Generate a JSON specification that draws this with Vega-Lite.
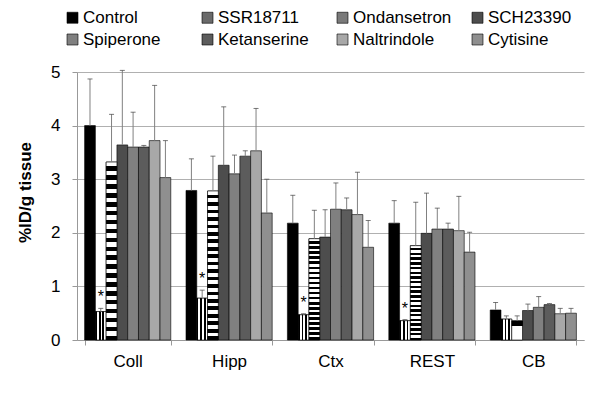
{
  "$schema": "https://vega.github.io/schema/vega-lite/v6.json",
  "width": 507,
  "height": 268,
  "autosize": {"type": "none"},
  "padding": {"left": 77, "top": 72, "right": 17, "bottom": 65},
  "config": {
    "font": "Liberation Sans",
    "view": {"stroke": null},
    "axis": {"labelColor": "#000", "titleColor": "#000", "domainColor": "#999", "tickColor": "#999", "gridColor": "#b0b0b0"}
  },
  "data": {
    "values": [
      {"region": "Coll", "treatment": "Control", "value": 4.00, "upper": 4.87, "sig": ""},
      {"region": "Coll", "treatment": "SSR18711", "value": 0.53, "upper": 0.59, "sig": "*"},
      {"region": "Coll", "treatment": "Ondansetron", "value": 3.32, "upper": 4.21, "sig": ""},
      {"region": "Coll", "treatment": "SCH23390", "value": 3.64, "upper": 5.03, "sig": ""},
      {"region": "Coll", "treatment": "Spiperone", "value": 3.60, "upper": 4.25, "sig": ""},
      {"region": "Coll", "treatment": "Ketanserine", "value": 3.60, "upper": 3.63, "sig": ""},
      {"region": "Coll", "treatment": "Naltrindole", "value": 3.72, "upper": 4.75, "sig": ""},
      {"region": "Coll", "treatment": "Cytisine", "value": 3.03, "upper": 3.72, "sig": ""},
      {"region": "Hipp", "treatment": "Control", "value": 2.79, "upper": 3.38, "sig": ""},
      {"region": "Hipp", "treatment": "SSR18711", "value": 0.78, "upper": 0.93, "sig": "*"},
      {"region": "Hipp", "treatment": "Ondansetron", "value": 2.78, "upper": 3.43, "sig": ""},
      {"region": "Hipp", "treatment": "SCH23390", "value": 3.26, "upper": 4.35, "sig": ""},
      {"region": "Hipp", "treatment": "Spiperone", "value": 3.10, "upper": 3.45, "sig": ""},
      {"region": "Hipp", "treatment": "Ketanserine", "value": 3.43, "upper": 3.53, "sig": ""},
      {"region": "Hipp", "treatment": "Naltrindole", "value": 3.53, "upper": 4.32, "sig": ""},
      {"region": "Hipp", "treatment": "Cytisine", "value": 2.37, "upper": 3.00, "sig": ""},
      {"region": "Ctx", "treatment": "Control", "value": 2.18, "upper": 2.70, "sig": ""},
      {"region": "Ctx", "treatment": "SSR18711", "value": 0.47, "upper": 0.49, "sig": "*"},
      {"region": "Ctx", "treatment": "Ondansetron", "value": 1.89, "upper": 2.42, "sig": ""},
      {"region": "Ctx", "treatment": "SCH23390", "value": 1.92, "upper": 2.43, "sig": ""},
      {"region": "Ctx", "treatment": "Spiperone", "value": 2.44, "upper": 2.93, "sig": ""},
      {"region": "Ctx", "treatment": "Ketanserine", "value": 2.43, "upper": 2.65, "sig": ""},
      {"region": "Ctx", "treatment": "Naltrindole", "value": 2.34, "upper": 3.13, "sig": ""},
      {"region": "Ctx", "treatment": "Cytisine", "value": 1.73, "upper": 2.23, "sig": ""},
      {"region": "REST", "treatment": "Control", "value": 2.18, "upper": 2.60, "sig": ""},
      {"region": "REST", "treatment": "SSR18711", "value": 0.36, "upper": 0.38, "sig": "*"},
      {"region": "REST", "treatment": "Ondansetron", "value": 1.76, "upper": 2.57, "sig": ""},
      {"region": "REST", "treatment": "SCH23390", "value": 1.99, "upper": 2.74, "sig": ""},
      {"region": "REST", "treatment": "Spiperone", "value": 2.07, "upper": 2.46, "sig": ""},
      {"region": "REST", "treatment": "Ketanserine", "value": 2.07, "upper": 2.18, "sig": ""},
      {"region": "REST", "treatment": "Naltrindole", "value": 2.04, "upper": 2.68, "sig": ""},
      {"region": "REST", "treatment": "Cytisine", "value": 1.64, "upper": 2.01, "sig": ""},
      {"region": "CB", "treatment": "Control", "value": 0.56, "upper": 0.70, "sig": ""},
      {"region": "CB", "treatment": "SSR18711", "value": 0.39, "upper": 0.45, "sig": ""},
      {"region": "CB", "treatment": "Ondansetron", "value": 0.36, "upper": 0.45, "sig": ""},
      {"region": "CB", "treatment": "SCH23390", "value": 0.55, "upper": 0.67, "sig": ""},
      {"region": "CB", "treatment": "Spiperone", "value": 0.61, "upper": 0.81, "sig": ""},
      {"region": "CB", "treatment": "Ketanserine", "value": 0.66, "upper": 0.68, "sig": ""},
      {"region": "CB", "treatment": "Naltrindole", "value": 0.49, "upper": 0.59, "sig": ""},
      {"region": "CB", "treatment": "Cytisine", "value": 0.50, "upper": 0.59, "sig": ""}
    ]
  },
  "encoding": {
    "x": {
      "field": "region", "type": "nominal", "sort": ["Coll", "Hipp", "Ctx", "REST", "CB"],
      "scale": {"paddingInner": 0.15, "paddingOuter": 0.075},
      "axis": {"title": null, "labelAngle": 0, "labelFontSize": 17, "tickBand": "extent", "tickSize": 5, "labelPadding": 8}
    },
    "xOffset": {
      "field": "treatment", "type": "nominal",
      "sort": ["Control", "SSR18711", "Ondansetron", "SCH23390", "Spiperone", "Ketanserine", "Naltrindole", "Cytisine"],
      "scale": {"paddingInner": 0, "paddingOuter": 0}
    },
    "y": {
      "field": "value", "type": "quantitative", "scale": {"domain": [0, 5]},
      "axis": {
        "values": [0, 1, 2, 3, 4, 5], "title": "%ID/g tissue", "titleFontSize": 17, "titleFontWeight": "bold",
        "titleX": -52, "titleY": 120, "titleAngle": -90, "titleAlign": "center", "titleBaseline": "middle",
        "labelFontSize": 17, "labelPadding": 12, "tickSize": 5, "grid": true
      }
    }
  },
  "layer": [
    {
      "mark": {"type": "bar", "stroke": "#000", "strokeWidth": 0.6},
      "encoding": {
        "fill": {
          "field": "treatment", "type": "nominal",
          "scale": {
            "domain": ["Control", "SSR18711", "Ondansetron", "SCH23390", "Spiperone", "Ketanserine", "Naltrindole", "Cytisine"],
            "range": ["#000000", "#6a6a6a", "#7a7a7a", "#4d4d4d", "#808080", "#5c5c5c", "#a8a8a8", "#8f8f8f"]
          },
          "legend": {
            "orient": "none", "direction": "horizontal", "legendX": -13, "legendY": -63, "columns": 4, "title": null,
            "symbolType": "square", "symbolSize": 121, "labelFontSize": 17, "labelOffset": 2,
            "columnPadding": 17, "rowPadding": 4, "gridAlign": "all", "symbolStrokeColor": "#000", "symbolStrokeWidth": 0.6
          }
        }
      }
    },
    {
      "transform": [{"filter": "datum.treatment == 'SSR18711'"}],
      "mark": {"type": "bar", "stroke": "#000", "strokeWidth": 0.6,
        "fill": {"gradient": "linear", "x1": 0, "y1": 0, "x2": 1, "y2": 0, "stops": [
          {"offset": 0, "color": "#000"}, {"offset": 0.15, "color": "#000"}, {"offset": 0.15, "color": "#fff"}, {"offset": 0.33, "color": "#fff"},
          {"offset": 0.33, "color": "#000"}, {"offset": 0.48, "color": "#000"}, {"offset": 0.48, "color": "#fff"}, {"offset": 0.66, "color": "#fff"},
          {"offset": 0.66, "color": "#000"}, {"offset": 0.81, "color": "#000"}, {"offset": 0.81, "color": "#fff"}, {"offset": 1, "color": "#fff"}
        ]}
      }
    },
    {
      "transform": [{"filter": "datum.treatment == 'Ondansetron'"}],
      "mark": {"type": "bar", "stroke": "#000", "strokeWidth": 0.6,
        "fill": {"gradient": "linear", "x1": 0, "y1": 0, "x2": 0, "y2": 1, "stops": [
          {"offset": 0, "color": "#fff"}, {"offset": 0.025, "color": "#fff"}, {"offset": 0.025, "color": "#000"}, {"offset": 0.05, "color": "#000"},
          {"offset": 0.05, "color": "#fff"}, {"offset": 0.075, "color": "#fff"}, {"offset": 0.075, "color": "#000"}, {"offset": 0.1, "color": "#000"},
          {"offset": 0.1, "color": "#fff"}, {"offset": 0.125, "color": "#fff"}, {"offset": 0.125, "color": "#000"}, {"offset": 0.15, "color": "#000"},
          {"offset": 0.15, "color": "#fff"}, {"offset": 0.175, "color": "#fff"}, {"offset": 0.175, "color": "#000"}, {"offset": 0.2, "color": "#000"},
          {"offset": 0.2, "color": "#fff"}, {"offset": 0.225, "color": "#fff"}, {"offset": 0.225, "color": "#000"}, {"offset": 0.25, "color": "#000"},
          {"offset": 0.25, "color": "#fff"}, {"offset": 0.275, "color": "#fff"}, {"offset": 0.275, "color": "#000"}, {"offset": 0.3, "color": "#000"},
          {"offset": 0.3, "color": "#fff"}, {"offset": 0.325, "color": "#fff"}, {"offset": 0.325, "color": "#000"}, {"offset": 0.35, "color": "#000"},
          {"offset": 0.35, "color": "#fff"}, {"offset": 0.375, "color": "#fff"}, {"offset": 0.375, "color": "#000"}, {"offset": 0.4, "color": "#000"},
          {"offset": 0.4, "color": "#fff"}, {"offset": 0.425, "color": "#fff"}, {"offset": 0.425, "color": "#000"}, {"offset": 0.45, "color": "#000"},
          {"offset": 0.45, "color": "#fff"}, {"offset": 0.475, "color": "#fff"}, {"offset": 0.475, "color": "#000"}, {"offset": 0.5, "color": "#000"},
          {"offset": 0.5, "color": "#fff"}, {"offset": 0.525, "color": "#fff"}, {"offset": 0.525, "color": "#000"}, {"offset": 0.55, "color": "#000"},
          {"offset": 0.55, "color": "#fff"}, {"offset": 0.575, "color": "#fff"}, {"offset": 0.575, "color": "#000"}, {"offset": 0.6, "color": "#000"},
          {"offset": 0.6, "color": "#fff"}, {"offset": 0.625, "color": "#fff"}, {"offset": 0.625, "color": "#000"}, {"offset": 0.65, "color": "#000"},
          {"offset": 0.65, "color": "#fff"}, {"offset": 0.675, "color": "#fff"}, {"offset": 0.675, "color": "#000"}, {"offset": 0.7, "color": "#000"},
          {"offset": 0.7, "color": "#fff"}, {"offset": 0.725, "color": "#fff"}, {"offset": 0.725, "color": "#000"}, {"offset": 0.75, "color": "#000"},
          {"offset": 0.75, "color": "#fff"}, {"offset": 0.775, "color": "#fff"}, {"offset": 0.775, "color": "#000"}, {"offset": 0.8, "color": "#000"},
          {"offset": 0.8, "color": "#fff"}, {"offset": 0.825, "color": "#fff"}, {"offset": 0.825, "color": "#000"}, {"offset": 0.85, "color": "#000"},
          {"offset": 0.85, "color": "#fff"}, {"offset": 0.875, "color": "#fff"}, {"offset": 0.875, "color": "#000"}, {"offset": 0.9, "color": "#000"},
          {"offset": 0.9, "color": "#fff"}, {"offset": 0.925, "color": "#fff"}, {"offset": 0.925, "color": "#000"}, {"offset": 0.95, "color": "#000"},
          {"offset": 0.95, "color": "#fff"}, {"offset": 0.975, "color": "#fff"}, {"offset": 0.975, "color": "#000"}, {"offset": 1, "color": "#000"}
        ]}
      }
    },
    {
      "mark": {"type": "rule", "color": "#808080", "strokeWidth": 1},
      "encoding": {
        "y2": {"field": "upper"}
      }
    },
    {
      "mark": {"type": "tick", "color": "#404040", "size": 5, "thickness": 1},
      "encoding": {
        "y": {"field": "upper", "type": "quantitative"}
      }
    },
    {
      "transform": [{"filter": "datum.sig != ''"}],
      "mark": {"type": "text", "fontSize": 16, "baseline": "alphabetic", "dy": -6, "color": "#000"},
      "encoding": {
        "y": {"field": "upper", "type": "quantitative"},
        "text": {"field": "sig"}
      }
    }
  ]
}
